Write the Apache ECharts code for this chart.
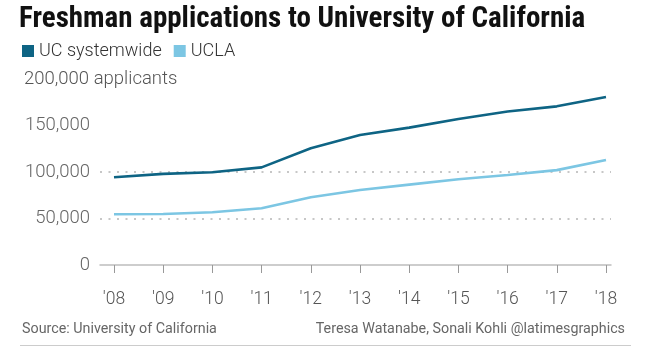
<!DOCTYPE html>
<html><head><meta charset="utf-8">
<script src="https://cdn.jsdelivr.net/npm/echarts@6/dist/echarts.min.js"></script>
<style>html,body{margin:0;padding:0;background:#fff}#c{width:650px;height:357px}</style>
</head><body><div id="c"></div>
<script>
var years = ["'08","'09","'10","'11","'12","'13","'14","'15","'16","'17","'18"];
var ucSystemwide = [94300, 98000, 99700, 105000, 125500, 139800, 147700, 157000, 165000, 170600, 180600];
var ucla = [54500, 54800, 56700, 61000, 72800, 80600, 86400, 92200, 96800, 102000, 113000];
var yTicks = [0, 50000, 100000, 150000, 200000];
var dottedLines = [50000, 100000];

var font = 'Roboto, "Liberation Sans", sans-serif';
var chart = echarts.init(document.getElementById('c'), null, {renderer: 'canvas'});
var splitColors = yTicks.map(function (v) { return dottedLines.indexOf(v) >= 0 ? '#b5b5b5' : 'rgba(0,0,0,0)'; });
chart.setOption({
  animation: false,
  textStyle: {fontFamily: font},
  title: {
    text: 'Freshman applications to University of California',
    left: 19, top: 5, padding: 0,
    textStyle: {fontFamily: '"Liberation Sans Narrow", "Roboto Condensed", Roboto, sans-serif', fontWeight: 'bold', fontSize: 29, color: '#111'}
  },
  legend: {
    left: 22, top: 42, padding: 0,
    icon: 'rect', itemWidth: 12, itemHeight: 12, itemGap: 12,
    textStyle: {fontSize: 18, color: '#333', fontWeight: 300},
    data: ['UC systemwide', 'UCLA']
  },
  graphic: [
    {type: 'text', left: 24, top: 70, style: {text: '200,000 applicants', fontSize: 18.5, fontWeight: 300, fill: '#555', fontFamily: font}},
    {type: 'text', left: 22, top: 322, style: {text: 'Source: University of California', fontSize: 14.3, fill: '#666', fontFamily: font}},
    {type: 'text', right: 25, top: 322, style: {text: 'Teresa Watanabe, Sonali Kohli @latimesgraphics', fontSize: 14.3, fill: '#666', fontFamily: font}},
    {type: 'rect', shape: {x: 20, y: 345, width: 611, height: 1}, style: {fill: '#ccc'}}
  ],
  grid: [
    {left: 100, right: 39, top: 79, height: 186},
    {left: 114, right: 44, top: 79, height: 186}
  ],
  xAxis: [
    {gridIndex: 0, type: 'value', min: 0, max: 1, axisLabel: {show: false}, axisTick: {show: false}, splitLine: {show: false},
     axisLine: {show: true, lineStyle: {color: '#bdbdbd', width: 1.5}}},
    {gridIndex: 1, type: 'category', data: years, boundaryGap: false, offset: 11,
     axisLine: {show: false},
     axisTick: {show: true, length: 8, alignWithLabel: true, lineStyle: {color: '#999', width: 1}},
     axisLabel: {margin: 15, fontSize: 17.5, fontWeight: 300, color: '#555', fontFamily: font}}
  ],
  yAxis: [
    {gridIndex: 0, type: 'value', min: 0, max: 200000, interval: 50000,
     axisLine: {show: false}, axisTick: {show: false},
     axisLabel: {margin: 10, fontSize: 18.5, fontWeight: 300, color: '#666', fontFamily: font,
       formatter: function (v) { return v === 200000 ? '' : v.toLocaleString('en-US'); }},
     splitLine: {show: true, lineStyle: {color: splitColors, type: [2, 6.5], width: 1.5}}},
    {gridIndex: 1, type: 'value', min: 0, max: 200000, show: false, splitLine: {show: false}}
  ],
  series: [
    {name: 'UC systemwide', type: 'line', xAxisIndex: 1, yAxisIndex: 1, data: ucSystemwide,
     symbol: 'none', lineStyle: {color: '#0e6484', width: 2.6}, itemStyle: {color: '#0e6484'}},
    {name: 'UCLA', type: 'line', xAxisIndex: 1, yAxisIndex: 1, data: ucla,
     symbol: 'none', lineStyle: {color: '#7cc6e3', width: 2.6}, itemStyle: {color: '#7cc6e3'}}
  ]
});
</script></body></html>
